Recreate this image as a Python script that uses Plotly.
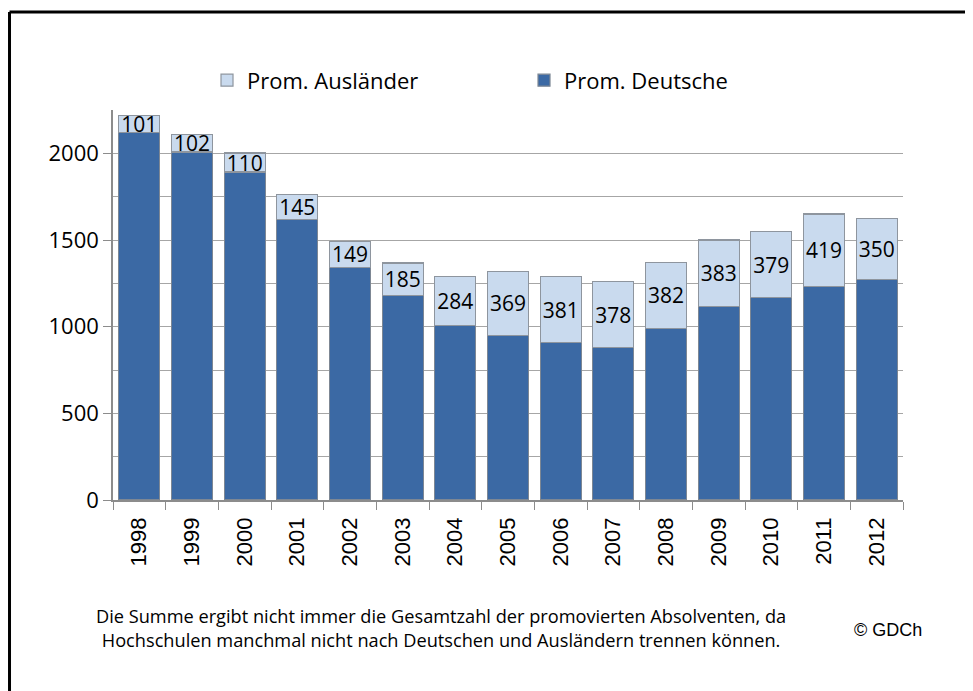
import plotly.graph_objects as go

jahre = ["1998", "1999", "2000", "2001", "2002", "2003", "2004", "2005",
         "2006", "2007", "2008", "2009", "2010", "2011", "2012"]
deutsche = [2118, 2008, 1892, 1619, 1342, 1182, 1006, 950,
            908, 881, 990, 1117, 1169, 1231, 1274]
auslaender = [101, 102, 110, 145, 149, 185, 284, 369,
              381, 378, 382, 383, 379, 419, 350]

fig = go.Figure()

fig.add_trace(go.Bar(
    x=jahre, y=deutsche, name="Prom. Deutsche",
    marker=dict(color="#3b69a4", line=dict(color="#7d8794", width=1.2)),
))
fig.add_trace(go.Bar(
    x=jahre, y=auslaender, name="Prom. Ausländer",
    marker=dict(color="#c9daee", line=dict(color="#8e959e", width=1.2)),
    text=auslaender, textposition="inside", insidetextanchor="middle",
    textangle=0, constraintext="none",
    textfont=dict(family="Open Sans", size=21, color="#000000"),
))

# page body has an 8px margin, so margins are shifted by 8
fig.update_layout(
    barmode="stack",
    bargap=0.22,
    width=973, height=691,
    margin=dict(l=105, r=78, t=102, b=199),
    paper_bgcolor="white",
    plot_bgcolor="white",
    uniformtext=dict(minsize=21, mode="show"),
    legend=dict(
        orientation="h", traceorder="reversed",
        x=0.119, y=1.076, xanchor="left", yanchor="middle",
        entrywidth=272, entrywidthmode="pixels",
        font=dict(family="Open Sans", size=22, color="#000000"),
    ),
    showlegend=True,
)

fig.update_yaxes(
    range=[0, 2250], dtick=500, tick0=0,
    showgrid=True, gridcolor="#a6a6a6", gridwidth=1,
    minor=dict(dtick=250, showgrid=True, gridcolor="#a6a6a6", gridwidth=1),
    showline=True, linecolor="#8c8c8c", linewidth=1.5,
    ticks="outside", ticklen=8, tickcolor="#8c8c8c",
    tickfont=dict(family="Open Sans", size=22, color="#000000"),
    zeroline=False,
)
fig.update_xaxes(
    tickangle=-90, tickson="boundaries",
    ticks="outside", ticklen=8, tickcolor="#8c8c8c",
    ticklabelstandoff=7,
    showline=True, linecolor="#8c8c8c", linewidth=1.5,
    tickfont=dict(family="Liberation Sans", size=22, color="#000000"),
)

fig.add_annotation(
    text="Die Summe ergibt nicht immer die Gesamtzahl der promovierten Absolventen, da<br>"
         "Hochschulen manchmal nicht nach Deutschen und Ausländern trennen können.",
    xref="paper", yref="paper", x=0.415, y=-0.327,
    xanchor="center", yanchor="middle", showarrow=False, align="center",
    font=dict(family="Open Sans", size=18.2, color="#000000"),
)
fig.add_annotation(
    text="© GDCh", xref="paper", yref="paper", x=0.935, y=-0.333,
    xanchor="left", yanchor="middle", showarrow=False,
    font=dict(family="Liberation Sans", size=18, color="#000000"),
)

# black frame (only top and left edges visible in the original)
fig.add_shape(type="line", xref="paper", yref="paper",
              x0=-0.131, x1=1.2, y0=1.251, y1=1.251,
              line=dict(color="black", width=3))
fig.add_shape(type="line", xref="paper", yref="paper",
              x0=-0.131, x1=-0.131, y0=1.251, y1=-0.6,
              line=dict(color="black", width=3))

fig.write_html("out.html")
